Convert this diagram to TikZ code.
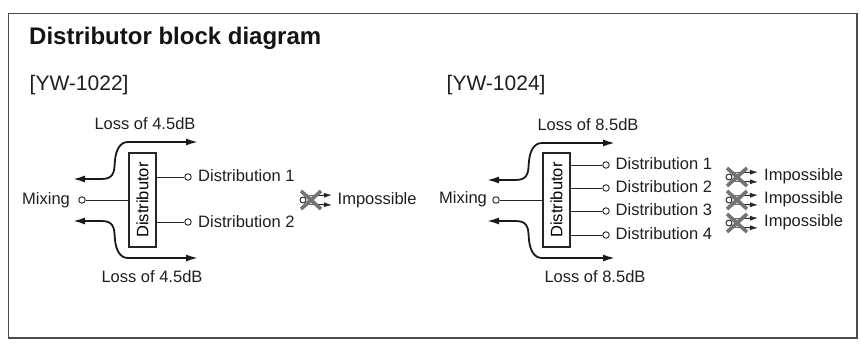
\documentclass[tikz,border=0pt]{standalone}
\usepackage{fontspec}
\setmainfont{Liberation Sans}
\usetikzlibrary{arrows.meta}
\tikzset{
  x=1pt,y=-1pt,
  lbl/.style={inner sep=0pt,font=\fontsize{16.5}{18}\selectfont,text=black!88},
  port/.style={circle,draw=black!85,fill=white,line width=0.9pt,minimum size=6.5pt,inner sep=0pt},
  wire/.style={draw=black!85,line width=0.9pt},
  flow/.style={draw=black!90,line width=1.8pt,{Latex[length=12pt,width=7pt]}-{Latex[length=12pt,width=7pt]}},
  dbox/.style={draw=black!85,fill=white,line width=1.2pt,minimum width=27pt,minimum height=94pt,inner sep=0pt},
  crossmark/.style={draw=black!55,line width=3.6pt},
  thinarrow/.style={draw=black!85,line width=0.9pt,-{Latex[length=8pt,width=5pt]}},
}
\newcommand{\nogo}[3]{%
  \node[port,minimum size=6pt] (#3p) at (#1-8,#2) {};
  \coordinate (#3a) at (#1+21,#2-5);
  \coordinate (#3b) at (#1+21,#2+5);
  \draw[thinarrow] (#3p) ++(2,-4) -- (#3a);
  \draw[thinarrow] (#3p) ++(2,4) -- (#3b);
  \draw[crossmark] (#1-10,#2-9) -- (#1+10,#2+9);
  \draw[crossmark] (#1-10,#2+9) -- (#1+10,#2-9);
}
\begin{document}
\begin{tikzpicture}
\useasboundingbox (0,0) rectangle (860,345);
\fill[white] (0,0) rectangle (860,345);
\draw[draw=black!70,line width=1.2pt] (8.5,13.5) rectangle (857,338);
\node[lbl,anchor=base west,font=\bfseries\fontsize{24}{26}\selectfont,text=black!92] (title) at (29,45) {Distributor block diagram};
\node[lbl,anchor=base west,font=\fontsize{21}{23}\selectfont] (h1) at (29.5,91) {[YW-1022]};
\node[lbl,anchor=base west,font=\fontsize{21}{23}\selectfont] (h2) at (446.5,91) {[YW-1024]};
% left
\node[dbox] (d1) at (142.5,200) {\rotatebox{90}{\fontsize{16.5}{18}\selectfont Distributor}};
\node[lbl,anchor=west] (mx1) at (22,200) {Mixing};
\node[port] (m1) at (82,200) {};
\draw[wire] (m1) -- (d1.west |- m1);
\node[port] (o1a) at (188,177) {};
\node[port] (o1b) at (188,222) {};
\draw[wire] (d1.east |- o1a) -- (o1a);
\draw[wire] (d1.east |- o1b) -- (o1b);
\node[lbl,anchor=west] (t1a) at (198,176) {Distribution 1};
\node[lbl,anchor=west] (t1b) at (198,222) {Distribution 2};
\node[lbl] (l1a) at (145,124) {Loss of 4.5dB};
\node[lbl] (l1b) at (152,277) {Loss of 4.5dB};
\coordinate (a1s) at (73,179);
\coordinate (a1e) at (198,142);
\coordinate (b1s) at (73,221);
\coordinate (b1e) at (198,258);
\draw[flow] (a1s) -- (102,179) .. controls (116,179) and (114,168) .. (115,160) .. controls (116,150) and (120,142) .. (128,142) -- (a1e);
\draw[flow] (b1s) -- (102,221) .. controls (116,221) and (114,232) .. (115,240) .. controls (116,250) and (120,258) .. (128,258) -- (b1e);
\nogo{311}{200}{na}
\node[lbl,anchor=west] (i1) at (337.5,200) {Impossible};
% right
\node[dbox] (d2) at (556.5,200) {\rotatebox{90}{\fontsize{16.5}{18}\selectfont Distributor}};
\node[lbl,anchor=west] (mx2) at (439,199) {Mixing};
\node[port] (m2) at (496,200) {};
\draw[wire] (m2) -- (d2.west |- m2);
\foreach \n/\y/\ty in {1/165/164,2/188/187,3/211/210,4/235/234}{
  \node[port] (o2\n) at (606,\y) {};
  \draw[wire] (d2.east |- o2\n) -- (o2\n);
  \node[lbl,anchor=west] (t2\n) at (615.5,\ty) {Distribution \n};
}
\node[lbl] (l2a) at (588,125) {Loss of 8.5dB};
\node[lbl] (l2b) at (595,277) {Loss of 8.5dB};
\coordinate (a2s) at (487,180);
\coordinate (a2e) at (615,143);
\coordinate (b2s) at (487,221);
\coordinate (b2e) at (615,258);
\draw[flow] (a2s) -- (516,180) .. controls (530,180) and (528,169) .. (529,161) .. controls (530,151) and (534,143) .. (542,143) -- (a2e);
\draw[flow] (b2s) -- (516,221) .. controls (530,221) and (528,232) .. (529,240) .. controls (530,250) and (534,258) .. (542,258) -- (b2e);
\nogo{737}{177}{nb}
\nogo{737}{200}{nc}
\nogo{737}{223}{nd}
\node[lbl,anchor=west] (i2) at (764,176) {Impossible};
\node[lbl,anchor=west] (i3) at (764,199) {Impossible};
\node[lbl,anchor=west] (i4) at (764,222) {Impossible};
\end{tikzpicture}
\end{document}
